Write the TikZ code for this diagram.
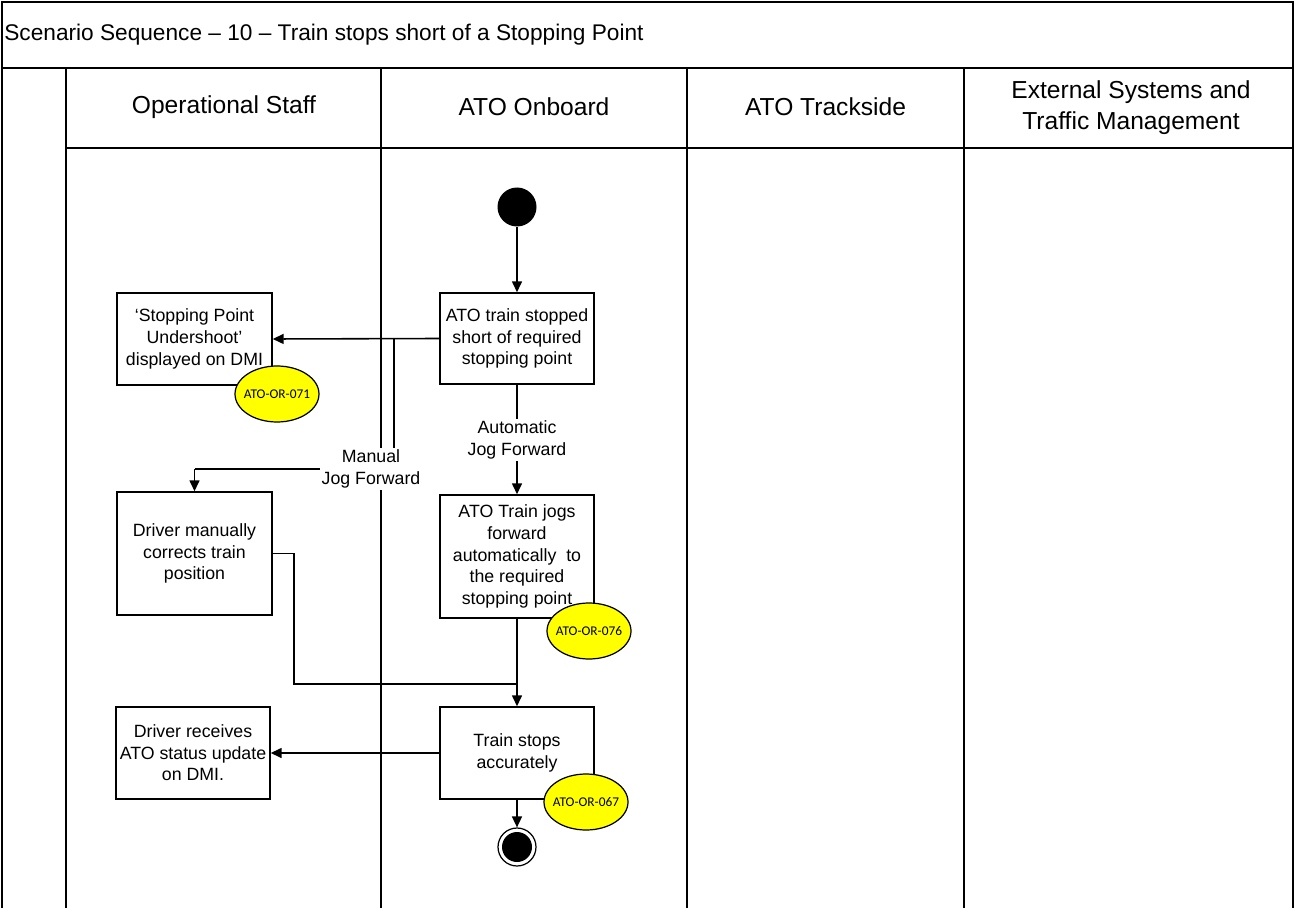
\documentclass[tikz,border=0pt]{standalone}
\usepackage{fontspec}
\setmainfont{Liberation Sans}
\newfontfamily\calibri{Carlito}
\usetikzlibrary{shapes.geometric,arrows.meta}
\definecolor{reqyellow}{RGB}{255,255,0}
\begin{document}
\begin{tikzpicture}[x=0.02cm,y=-0.02cm,
  frame/.style={line width=1.1pt},
  actbox/.style={draw,line width=0.85pt,fill=white,align=center,inner sep=2pt,
    font=\fontsize{10.1}{12.3}\selectfont},
  req/.style={ellipse,draw,line width=0.7pt,fill=reqyellow,inner xsep=-2pt,inner ysep=0pt,
    minimum width=1.68cm,minimum height=1.12cm,font=\calibri\fontsize{7.6}{8}\selectfont},
  flow/.style={line width=0.9pt},
  arr/.style={flow,-{Triangle[length=0.22cm,width=0.2cm]}},
  lbl/.style={fill=white,align=center,inner sep=1pt,font=\fontsize{10.1}{12.3}\selectfont},
  lanehead/.style={align=center,font=\fontsize{14}{17.6}\selectfont}]
\useasboundingbox (0,0) rectangle (1294,908);

% frame, title row, header row and lane dividers
\draw[frame] (2,908) -- (2,2) -- (1293,2) -- (1293,908);
\draw[frame] (2,68) -- (1293,68);
\draw[frame] (66,148) -- (1293,148);
\foreach \xx in {66,381,687,964} \draw[frame] (\xx,68) -- (\xx,908);

\node[anchor=west,inner sep=0pt,font=\fontsize{12.9}{15}\selectfont] (title) at (4,35)
  {Scenario Sequence – 10 – Train stops short of a Stopping Point};
\node[lanehead] (h1) at (224,107) {Operational Staff};
\node[lanehead] (h2) at (534,107) {ATO Onboard};
\node[lanehead] (h3) at (825.5,107) {ATO Trackside};
\node[lanehead] (h4) at (1131,108) {External Systems and\\Traffic Management};

% start state
\node[circle,fill=black,minimum size=0.78cm,inner sep=0pt] (start) at (517,207) {};

% activities
\node[actbox,minimum width=3.08cm,minimum height=1.82cm] (stopped) at (517,338.5)
  {ATO train stopped\\short of required\\stopping point};
\node[actbox,minimum width=3.10cm,minimum height=1.84cm] (undershoot) at (194.5,339)
  {‘Stopping Point\\Undershoot’\\displayed on DMI};
\node[actbox,minimum width=3.10cm,minimum height=2.46cm] (manual) at (194.5,553.5)
  {Driver manually\\corrects train\\position};
\node[actbox,minimum width=3.08cm,minimum height=2.46cm] (jog) at (517,556.5)
  {ATO Train jogs\\forward\\automatically\ \ to\\the required\\stopping point};
\node[actbox,minimum width=3.08cm,minimum height=1.84cm] (accurate) at (517,753)
  {Train stops\\accurately};
\node[actbox,minimum width=3.08cm,minimum height=1.84cm] (status) at (193,753)
  {Driver receives\\ATO status update\\on DMI.};

% end state
\node[circle,draw,line width=0.7pt,fill=white,minimum size=0.76cm,inner sep=0pt] (finish) at (517,847) {};
\node[circle,fill=black,minimum size=0.6cm,inner sep=0pt] (finishdot) at (517,847) {};

% junction points of the routed connectors
\coordinate (split) at (394,338.5);
\coordinate (splitdown) at (394,469);
\coordinate (manualturn) at (194.5,469);
\coordinate (manualout) at (294,553.5);
\coordinate (manualdown) at (294,684);
\coordinate (merge) at (517,684);

% connectors
\draw[arr] (start) -- (stopped);
\draw[arr] (stopped.west) -- (undershoot.east);
\draw[flow] (split) -- (splitdown) -- (manualturn);
\draw[arr] (manualturn) -- (manual.north);
\draw[arr] (stopped) -- (jog);
\draw[arr] (jog) -- (accurate);
\draw[flow] (manual.east) -- (manualout) -- (manualdown) -- (merge);
\draw[arr] (accurate.west) -- (status.east);
\draw[arr] (accurate.south) -- (finish.north);

% connector labels
\node[lbl] (manuallbl) at (371,469) {Manual\\Jog Forward};
\node[lbl] (autolbl) at (517,440) {Automatic\\Jog Forward};

% requirement references
\node[req] (r071) at (277,394) {ATO-OR-071};
\node[req] (r076) at (589,631) {ATO-OR-076};
\node[req] (r067) at (586,802) {ATO-OR-067};
\end{tikzpicture}
\end{document}
